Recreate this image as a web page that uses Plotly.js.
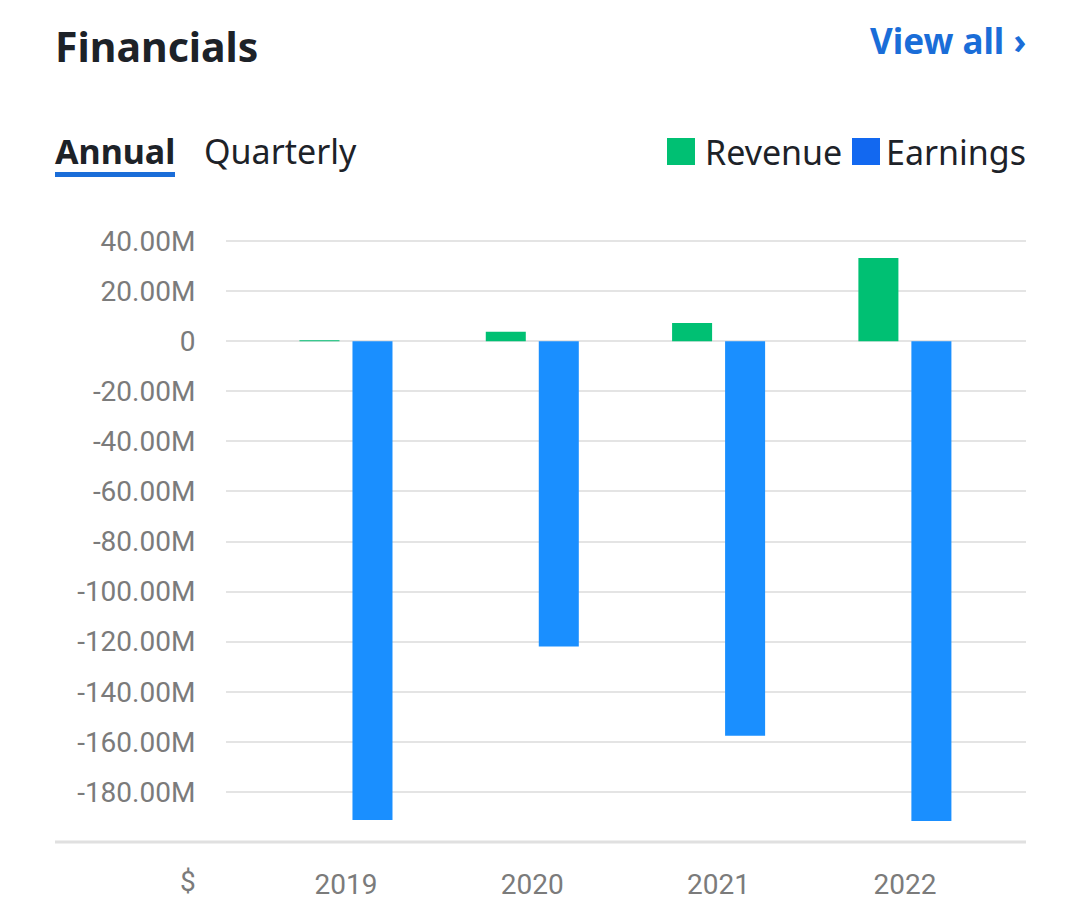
<!DOCTYPE html>
<html>
<head>
<meta charset="utf-8">
<script src="https://cdn.plot.ly/plotly-3.0.1.min.js"></script>
<style>html,body{margin:0;padding:0;background:#fff;}#chart{width:1080px;height:920px;}</style>
</head>
<body>
<div id="chart"></div>
<script>
// Data (values in millions of $)
const years = ['2019', '2020', '2021', '2022'];
const revenue = [0.4, 3.8, 7.3, 33.2];
const earnings = [-191.2, -121.9, -157.6, -191.6];
const yTickVals = [40, 20, 0, -20, -40, -60, -80, -100, -120, -140, -160, -180];
const yTickText = ['40.00M', '20.00M', '0', '-20.00M', '-40.00M', '-60.00M', '-80.00M', '-100.00M', '-120.00M', '-140.00M', '-160.00M', '-180.00M'];

// pixel -> paper helpers (plot area: x 226..1026, y 230..842)
const L = 226, R = 1026, T = 230, B = 842;
const px = x => (x - L) / (R - L);
const py = y => (B - y) / (B - T);

const green = '#00c073';
const barBlue = '#1a8fff';
const legendBlue = '#1268f0';
const linkBlue = '#1a6dd8';
const dark = '#1d2228';
const gray = '#7b7b7b';

const traces = [
  {type: 'bar', name: 'Revenue', x: years, y: revenue, marker: {color: green}, hoverinfo: 'skip'},
  {type: 'bar', name: 'Earnings', x: years, y: earnings, marker: {color: barBlue}, hoverinfo: 'skip'}
];

const layout = {
  width: 1080, height: 920,
  margin: {l: L, r: 1080 - R, t: T, b: 920 - B, pad: 0},
  paper_bgcolor: '#ffffff', plot_bgcolor: '#ffffff',
  showlegend: false,
  barmode: 'group', bargap: 0.431, bargroupgap: 0.245,
  font: {family: 'Roboto, sans-serif', color: gray},
  xaxis: {
    type: 'category', range: [-0.644, 3.65],
    showgrid: false, zeroline: false, showline: false,
    ticks: 'outside', ticklen: 17, tickcolor: 'rgba(0,0,0,0)',
    tickfont: {family: 'Roboto, sans-serif', size: 28, color: gray},
    fixedrange: true
  },
  yaxis: {
    range: [-200, 44.4],
    tickvals: yTickVals, ticktext: yTickText,
    showgrid: true, gridcolor: '#e4e4e4', gridwidth: 2,
    zeroline: true, zerolinecolor: '#e4e4e4', zerolinewidth: 2,
    showline: false,
    ticks: 'outside', ticklen: 24, tickcolor: 'rgba(0,0,0,0)',
    tickfont: {family: 'Roboto, sans-serif', size: 28, color: gray},
    fixedrange: true
  },
  shapes: [
    // bottom axis line
    {type: 'line', xref: 'paper', yref: 'paper', x0: px(55), x1: px(1026), y0: 0, y1: 0,
     line: {color: '#e0e0e0', width: 3}, layer: 'below'},
    // Annual underline
    {type: 'rect', xref: 'paper', yref: 'paper', x0: px(55), x1: px(175), y0: py(177), y1: py(172),
     fillcolor: linkBlue, line: {width: 0}},
    // legend squares
    {type: 'rect', xref: 'paper', yref: 'paper', x0: px(667), x1: px(695), y0: py(165), y1: py(138),
     fillcolor: green, line: {width: 0}},
    {type: 'rect', xref: 'paper', yref: 'paper', x0: px(852), x1: px(880), y0: py(165), y1: py(138),
     fillcolor: legendBlue, line: {width: 0}}
  ],
  annotations: [
    {text: '<b>Financials</b>', xref: 'paper', yref: 'paper', x: px(53), y: py(46),
     xanchor: 'left', yanchor: 'middle', showarrow: false,
     font: {family: 'Noto Sans, sans-serif', size: 41, color: dark}},
    {text: '<b>View all ›</b>', xref: 'paper', yref: 'paper', x: px(1028), y: py(40),
     xanchor: 'right', yanchor: 'middle', showarrow: false,
     font: {family: 'Noto Sans, sans-serif', size: 35, color: linkBlue}},
    {text: '<b>Annual</b>', xref: 'paper', yref: 'paper', x: px(53), y: py(151),
     xanchor: 'left', yanchor: 'middle', showarrow: false,
     font: {family: 'Noto Sans, sans-serif', size: 34, color: dark}},
    {text: 'Quarterly', xref: 'paper', yref: 'paper', x: px(202), y: py(151),
     xanchor: 'left', yanchor: 'middle', showarrow: false,
     font: {family: 'Noto Sans, sans-serif', size: 34, color: dark}},
    {text: 'Revenue', xref: 'paper', yref: 'paper', x: px(703), y: py(152),
     xanchor: 'left', yanchor: 'middle', showarrow: false,
     font: {family: 'Noto Sans, sans-serif', size: 34, color: dark}},
    {text: 'Earnings', xref: 'paper', yref: 'paper', x: px(1028), y: py(152),
     xanchor: 'right', yanchor: 'middle', showarrow: false,
     font: {family: 'Noto Sans, sans-serif', size: 34, color: dark}},
    {text: '$', xref: 'paper', yref: 'paper', x: px(188), y: py(881),
     xanchor: 'center', yanchor: 'middle', showarrow: false,
     font: {family: 'Roboto, sans-serif', size: 28, color: gray}}
  ]
};

Plotly.newPlot('chart', traces, layout, {displayModeBar: false, staticPlot: true});
</script>
</body>
</html>
